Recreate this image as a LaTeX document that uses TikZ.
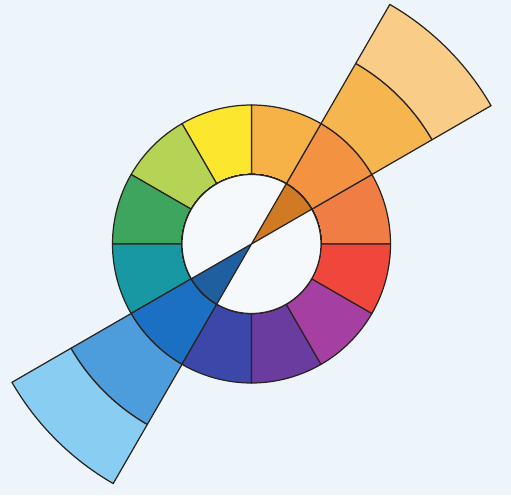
\documentclass[tikz,border=0pt]{standalone}
\usepackage{tikz}
\definecolor{WheelPaper}{HTML}{EEF5FA}
\definecolor{WheelHole}{HTML}{F6F9FC}
\definecolor{WheelEdge}{HTML}{2A2420}
\definecolor{HueA}{HTML}{F07D44}
\definecolor{HueB}{HTML}{F39241}
\definecolor{HueC}{HTML}{F6B246}
\definecolor{HueD}{HTML}{FDE72E}
\definecolor{HueE}{HTML}{B5D455}
\definecolor{HueF}{HTML}{3DA55D}
\definecolor{HueG}{HTML}{1898A2}
\definecolor{HueH}{HTML}{1C70C3}
\definecolor{HueI}{HTML}{3C48A9}
\definecolor{HueJ}{HTML}{6A3CA0}
\definecolor{HueK}{HTML}{A540A2}
\definecolor{HueL}{HTML}{F0473C}
\definecolor{ShadeOrange}{HTML}{D07A24}
\definecolor{TintOrangeA}{HTML}{F6B64F}
\definecolor{TintOrangeB}{HTML}{F9CC87}
\definecolor{ShadeBlue}{HTML}{1F5E9F}
\definecolor{TintBlueA}{HTML}{4D9CDC}
\definecolor{TintBlueB}{HTML}{89CEF2}
\tikzset{
  sector/.style={draw=WheelEdge, line width=0.7pt, line join=round}
}
%% annular sector: colour, start angle, end angle, inner radius, outer radius
\newcommand{\ringpiece}[5]{%
  \path[sector, fill=#1] (#2:#4) arc[start angle=#2, end angle=#3, radius=#4]
    -- (#3:#5) arc[start angle=#3, end angle=#2, radius=#5] -- cycle;}
\begin{document}
\begin{tikzpicture}
      \fill[WheelPaper] (0,0) rectangle (10.22,9.9);
      \begin{scope}[shift={(5.03,5.02)}]
      \def\u{1.39}
      %% Twelve hues of the ring
      \foreach \hue [count=\i from 0] in {HueA,HueB,HueC,HueD,HueE,HueF,HueG,HueH,HueI,HueJ,HueK,HueL}
        \ringpiece{\hue}{\i*30}{\i*30+30}{\u}{2*\u}
      %% Hole
      \path[sector, fill=WheelHole] (0,0) circle (\u);
      %% Orange wedge: shade inside, tints outside
      \path[sector, fill=ShadeOrange] (0,0) -- (30:\u) arc[start angle=30, end angle=60, radius=\u] -- cycle;
      \ringpiece{TintOrangeA}{30}{60}{2*\u}{3*\u}
      \ringpiece{TintOrangeB}{30}{60}{3*\u}{3.98*\u}
      %% Blue wedge: shade inside, tints outside
      \path[sector, fill=ShadeBlue] (0,0) -- (210:\u) arc[start angle=210, end angle=240, radius=\u] -- cycle;
      \ringpiece{TintBlueA}{210}{240}{2*\u}{3*\u}
      \ringpiece{TintBlueB}{210}{240}{3*\u}{3.98*\u}
      \end{scope}
    \end{tikzpicture}
\end{document}
